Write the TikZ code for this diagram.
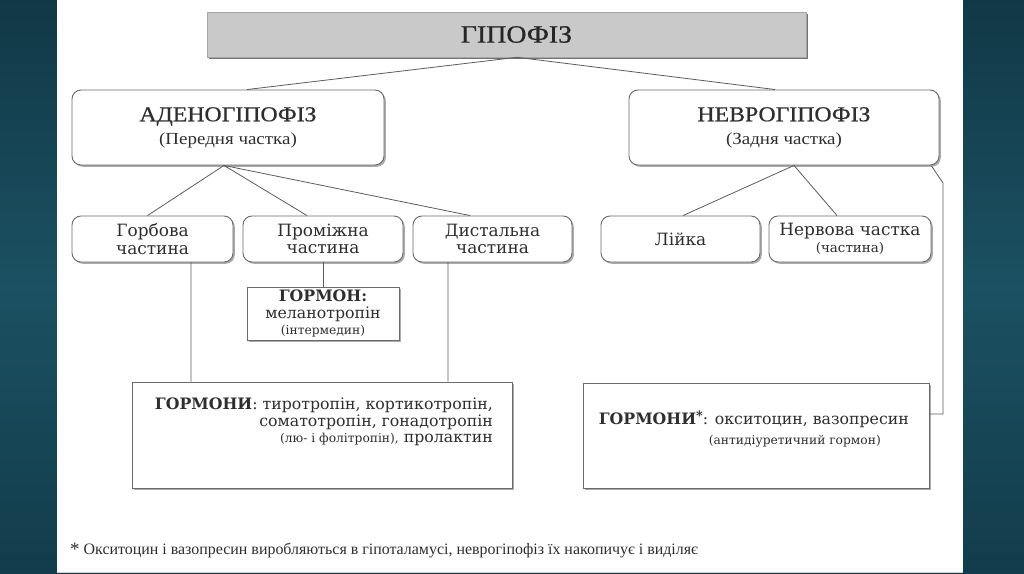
\documentclass[tikz,border=0pt]{standalone}
\usepackage{fontspec}
\setmainfont{DejaVu Serif}
\newfontfamily\hdfont[FakeStretch=1.12,FakeBold=0.7]{Liberation Serif}
\newfontfamily\hsfont[FakeStretch=1.12]{Liberation Serif}
\newfontfamily\ftfont{Liberation Serif}
\usetikzlibrary{shadows,calc}
\definecolor{bgtop}{HTML}{113847}
\definecolor{bgmid}{HTML}{1B5162}
\definecolor{bgbot}{HTML}{123C4B}
\definecolor{txt}{HTML}{2E2E2E}
\definecolor{bordc}{HTML}{6A6A6A}
\definecolor{shd}{HTML}{ABABAB}
\definecolor{linec}{HTML}{5C5C5C}
\definecolor{titlefill}{HTML}{C9C9C9}
\tikzset{
  rbox/.style={draw=bordc, fill=white, rounded corners=9bp, line width=0.9bp,
    text=txt, align=center, inner sep=0pt,
    drop shadow={shadow xshift=1.8bp, shadow yshift=-1.8bp, fill=shd, opacity=1}},
  sbox/.style={draw=bordc, fill=white, line width=0.9bp, text=txt, align=center, inner sep=0pt,
    drop shadow={shadow xshift=1.8bp, shadow yshift=-1.8bp, fill=shd, opacity=1}},
  titlebox/.style={draw=gray!70, fill=titlefill, line width=0.6bp, text=black!85, inner sep=0pt,
    drop shadow={shadow xshift=2.2bp, shadow yshift=-2.4bp, fill=black!55, opacity=1}},
  conn/.style={draw=linec, line width=0.8bp},
  lbl/.style={text=txt, inner sep=0pt, align=right}
}
\newcommand\hd{\hdfont\fontsize{21.3}{23}\selectfont}
\newcommand\hs{\hsfont\fontsize{17}{19}\selectfont}
\newcommand\bd{\fontsize{17}{17.5}\selectfont}
\newcommand\bs{\fontsize{13.5}{15}\selectfont}
\newcommand\hm{\fontsize{15.8}{16.5}\selectfont}
\newcommand\hsm{\fontsize{12.3}{16.5}\selectfont}
\newcommand\astk{\raisebox{4bp}{\fontsize{13}{13}\selectfont*}}
\begin{document}
\begin{tikzpicture}[x=1bp,y=-1bp]
\useasboundingbox (0,0) rectangle (1024,574);
\shade[top color=bgtop, bottom color=bgbot, middle color=bgmid] (0,0) rectangle (1024,574);
\fill[white] (57,0) rectangle (963,573);
\draw[gray!35, line width=0.8bp] (57,572.6) -- (963,572.6);

% title
\node[titlebox, minimum width=599bp, minimum height=45bp, font=\hdfont\fontsize{25}{28}\selectfont] (title) at (506.5,34.5)
  {\hspace{20bp}ГІПОФІЗ};

% level 1
\node[rbox, minimum width=312bp, minimum height=75bp, font=\hd] (adeno) at (228,127.5)
  {АДЕНОГІПОФІЗ\\[0bp]\hs (Передня частка)};
\node[rbox, minimum width=310bp, minimum height=75bp, font=\hd] (neuro) at (784,127.5)
  {НЕВРОГІПОФІЗ\\[0bp]\hs (Задня частка)};

% level 2
\node[rbox, minimum width=161bp, minimum height=46bp, font=\bd] (gorb) at (152.5,239)
  {Горбова\\частина};
\node[rbox, minimum width=160bp, minimum height=46bp, font=\bd] (prom) at (323,239)
  {Проміжна\\частина};
\node[rbox, minimum width=159bp, minimum height=46bp, font=\bd] (dist) at (492.5,239)
  {Дистальна\\частина};
\node[rbox, minimum width=159bp, minimum height=46bp, font=\bd] (lijka) at (680.5,239)
  {Лійка};
\node[rbox, minimum width=162bp, minimum height=46bp, font=\bd] (nerv) at (850,239)
  {Нервова частка\\\bs (частина)};

% hormone boxes
\node[sbox, minimum width=152bp, minimum height=53bp, font=\hm] (melan) at (323,313.5)
  {\textbf{ГОРМОН:}\\меланотропін\\\hsm(інтермедин)};
\node[sbox, minimum width=380bp, minimum height=106bp] (hormL) at (322,435) {};
\node[lbl, anchor=north east, font=\hm] (hormLt) at (493,398)
  {\textbf{ГОРМОНИ}: тиротропін, кортикотропін,\\
   соматотропін, гонадотропін\\
   {\hsm(лю- і фолітропін),} пролактин};
\node[sbox, minimum width=346bp, minimum height=105bp] (hormR) at (756,435.5) {};
\node[lbl, anchor=north east, font=\hm] (hormRt) at (909,411)
  {\textbf{ГОРМОНИ\astk}: окситоцин, вазопресин\\[3bp]
   \hsm(антидіуретичний гормон)\rule{28bp}{0bp}};

% footnote
\node[text=txt, inner sep=0pt, anchor=west, font=\ftfont\fontsize{16}{18}\selectfont] (foot) at (70,551)
  {\raisebox{-1bp}{\fontsize{19}{19}\selectfont*}\hspace{4bp}Окситоцин і вазопресин виробляються в гіпоталамусі, неврогіпофіз їх накопичує і виділяє};

% connectors
\draw[conn] ([xshift=10.5bp]title.south) -- ([xshift=19bp]adeno.north);
\draw[conn] ([xshift=10.5bp]title.south) -- ([xshift=-9bp]neuro.north);
\draw[conn] ([xshift=-4bp]adeno.south) -- ([xshift=-5bp]gorb.north);
\draw[conn] ([xshift=-4bp]adeno.south) -- ([xshift=-16bp]prom.north);
\draw[conn] ([xshift=-4bp]adeno.south) -- ([xshift=-22.5bp]dist.north);
\draw[conn] ([xshift=10bp]neuro.south) -- ([xshift=2.5bp]lijka.north);
\draw[conn] ([xshift=10bp]neuro.south) -- ([xshift=-13bp]nerv.north);
\draw[conn] (prom.south) -- (melan.north);
\draw[conn] ([xshift=38.5bp]gorb.south) -- ([xshift=-131bp]hormL.north);
\draw[conn] ([xshift=-44.5bp]dist.south) -- ([xshift=126bp]hormL.north);
\coordinate (br1) at (943,183);
\coordinate (br2) at (943,414);
\draw[conn] ([xshift=-8bp,yshift=-0.5bp]neuro.south east) -- (br1) -- (br2) -- ([yshift=21.5bp]hormR.east);
\end{tikzpicture}
\end{document}
